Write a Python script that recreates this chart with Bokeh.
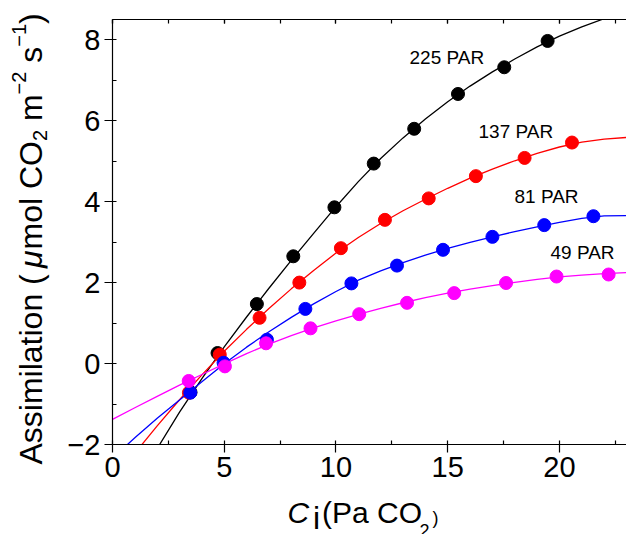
import math
from bokeh.plotting import figure
from bokeh.layouts import row, column
from bokeh.models import (Range1d, LinearAxis, SingleIntervalTicker,
                          CustomJSTickFormatter, Label)
from bokeh.embed import file_html
from bokeh.resources import INLINE

# ---------------- data ----------------
black_x = [3.49, 4.70, 6.46, 8.09, 9.93, 11.69, 13.50, 15.46, 17.53, 19.47]
black_y = [-0.71, 0.26, 1.47, 2.65, 3.86, 4.94, 5.80, 6.66, 7.32, 7.97]
red_x = [3.42, 4.80, 6.58, 8.36, 10.22, 12.19, 14.15, 16.26, 18.44, 20.56]
red_y = [-0.72, 0.22, 1.13, 2.00, 2.85, 3.55, 4.08, 4.63, 5.08, 5.46]
blue_x = [3.48, 4.97, 6.91, 8.63, 10.69, 12.73, 14.79, 17.00, 19.32, 21.52]
blue_y = [-0.72, 0.02, 0.59, 1.35, 1.98, 2.42, 2.81, 3.13, 3.42, 3.64]
mag_x = [3.41, 5.03, 6.87, 8.86, 11.04, 13.18, 15.29, 17.61, 19.87, 22.20]
mag_y = [-0.43, -0.07, 0.50, 0.87, 1.22, 1.50, 1.74, 1.99, 2.15, 2.20]

# fitted curves
black_fit_x = [2, 3, 4, 5, 6, 7, 8, 9, 10, 11, 12, 13, 14, 15, 16, 17, 18, 19, 20, 21, 22, 23]
black_fit_y = [-2.10, -1.20, -0.37, 0.41, 1.15, 1.86, 2.55, 3.215, 3.875, 4.495, 5.065,
               5.575, 6.04, 6.467, 6.855, 7.205, 7.525, 7.823, 8.09, 8.32, 8.52, 8.685]
red_fit_x = [1, 2, 3, 4, 5, 6, 7, 8, 9, 10, 11, 12, 13, 14, 15, 16, 17, 18, 19, 20, 21, 22, 23]
red_fit_y = [-2.215, -1.54, -0.895, -0.28, 0.305, 0.845, 1.36, 1.845, 2.30, 2.73, 3.115,
             3.46, 3.775, 4.06, 4.33, 4.58, 4.805, 5.01, 5.195, 5.35, 5.47, 5.545, 5.585]
blue_fit_x = [0, 1, 2, 3, 4, 5, 6, 7, 8, 9, 10, 11, 12, 13, 14, 15, 16, 17, 18, 19, 20, 21, 22, 23]
blue_fit_y = [-2.34, -1.833, -1.351, -0.903, -0.449, -0.005, 0.405, 0.785, 1.141, 1.473,
              1.78, 2.06, 2.29, 2.495, 2.68, 2.845, 2.996, 3.132, 3.259, 3.377, 3.49,
              3.589, 3.648, 3.653]
mag_fit_x = [0, 1, 2, 3, 4, 5, 6, 7, 8, 9, 10, 11, 12, 13, 14, 15, 16, 17, 18, 19, 20, 21, 22, 23]
mag_fit_y = [-1.38, -1.0925, -0.81, -0.535, -0.27, -0.01, 0.245, 0.48, 0.69, 0.88, 1.055,
             1.215, 1.365, 1.502, 1.626, 1.738, 1.838, 1.927, 2.007, 2.079, 2.139, 2.187,
             2.222, 2.247]

series_labels = ["225 PAR", "137 PAR", "81 PAR", "49 PAR"]
series_colors = ["#000000", "#ff0000", "#0000ff", "#ff00ff"]

FONT = "Liberation Sans"
MID = 0.3465   # (ascent - descent) / 2 in em: baseline offset from the text-box centre

# ---------------- layout (page pixels) ----------------
W, H = 626, 534
YW = 50          # strip at left holding the y title
XH = 40          # strip at bottom holding the x title
FL, FR, FT, FB = 112, 626, 19, 444
X0, X1, Y0, Y1 = 0, 23, -2, 8.5

MW, MH = W - YW, H - XH
p = figure(width=MW, height=MH, output_backend="svg", toolbar_location=None,
           x_range=Range1d(X0, X1), y_range=Range1d(Y0, Y1),
           x_axis_type=None, y_axis_type=None,
           min_border_left=FL - YW, min_border_right=W - FR,
           min_border_top=FT, min_border_bottom=MH - FB)
p.outline_line_color = None
p.background_fill_color = "white"
p.border_fill_color = "white"


def dx(px):
    return X0 + (px - FL) / (FR - FL) * (X1 - X0)


def dy(py):
    return Y1 - (py - FT) / (FB - FT) * (Y1 - Y0)


fmt = CustomJSTickFormatter(code="return tick < 0 ? '\u2212' + Math.abs(tick) : String(tick);")


def style_axis(ax):
    ax.axis_line_width = 1.2
    ax.major_tick_line_width = 1.2
    ax.minor_tick_line_width = 1.2
    ax.major_tick_out = 8
    ax.major_tick_in = 0
    ax.minor_tick_out = 0
    ax.minor_tick_in = 4
    ax.major_label_text_font = FONT
    ax.major_label_text_font_size = "29px"
    ax.major_label_text_color = "black"
    ax.major_label_standoff = 4


xb = LinearAxis(ticker=SingleIntervalTicker(interval=5, num_minor_ticks=2), formatter=fmt)
style_axis(xb)
p.add_layout(xb, "below")

yl = LinearAxis(ticker=SingleIntervalTicker(interval=2, num_minor_ticks=2), formatter=fmt)
style_axis(yl)
p.add_layout(yl, "left")

xt = LinearAxis(ticker=SingleIntervalTicker(interval=5, num_minor_ticks=2),
                formatter=CustomJSTickFormatter(code="return '';"))
xt.axis_line_width = 1.2
xt.major_tick_line_width = 1.2
xt.minor_tick_line_width = 1.2
xt.major_tick_out = 0
xt.major_tick_in = 4
xt.minor_tick_out = 0
xt.minor_tick_in = 4
xt.major_label_text_font_size = "1px"
xt.major_label_standoff = 0
p.add_layout(xt, "above")

# ---------------- data glyphs ----------------
fits = [(black_fit_x, black_fit_y), (red_fit_x, red_fit_y),
        (blue_fit_x, blue_fit_y), (mag_fit_x, mag_fit_y)]
pts = [(black_x, black_y), (red_x, red_y), (blue_x, blue_y), (mag_x, mag_y)]
for (fx, fy), (sx, sy), c in zip(fits, pts, series_colors):
    p.line(fx, fy, line_color=c, line_width=1.3)
    p.scatter(sx, sy, size=13, fill_color=c, line_color=c, line_width=1)

# series annotations: (left px, baseline px)
ann_pos = [(409, 64), (478, 137.3), (514, 202.3), (550, 258.3)]
for txt, (ax_, ay_) in zip(series_labels, ann_pos):
    p.add_layout(Label(x=dx(ax_), y=dy(ay_ - MID * 19), text=txt, text_font=FONT,
                       text_font_size="19px", text_color="black",
                       text_align="left", text_baseline="middle"))


def strip(width, height, x0, x1, y0, y1):
    f = figure(width=width, height=height, output_backend="svg", toolbar_location=None,
               x_range=Range1d(x0, x1), y_range=Range1d(y1, y0),
               x_axis_type=None, y_axis_type=None,
               min_border_left=0, min_border_right=0, min_border_top=0, min_border_bottom=0)
    f.outline_line_color = None
    f.background_fill_color = "white"
    f.border_fill_color = "white"
    return f


# x axis title:  C_i (Pa CO_2)   -- strip frame is aligned under the main frame (112..626)
xf = strip(MW, XH, FL, FR, MH, H)
xparts = [("C", 30, "italic", 287, 522.5),
          ("i", 32, "normal", 312.5, 529),
          ("(Pa CO", 30, "normal", 321.5, 522.5),
          ("2", 18, "normal", 419, 536.6),
          (")", 18, "normal", 432, 523.5)]
for txt, fs, st, px, py in xparts:
    xf.add_layout(Label(x=px, y=py - MID * fs, text=txt, text_font=FONT,
                        text_font_size=f"{fs}px", text_font_style=st,
                        text_color="black", text_align="left",
                        text_baseline="middle"))

# y axis title: Assimilation (mu mol CO2 m-2 s-1), rotated; (baseline px, start px)
yf = strip(YW, H, 0, YW, 0, H)
yparts = [("Assimilation (", 32, "normal", 41.5, 464),
          ("\u03bc", 32, "italic", 41.5, 267.4),
          ("mol CO", 32, "normal", 41.5, 249.0),
          ("2", 20, "normal", 46, 140.6),
          ("m", 32, "normal", 41.5, 120.6),
          ("\u22122", 20, "normal", 25, 93.9),
          ("s", 32, "normal", 41.5, 62.2),
          ("\u22121", 20, "normal", 25, 46.2),
          (")", 32, "normal", 41.5, 23.4)]
for txt, fs, st, px, py in yparts:
    yf.add_layout(Label(x=px - MID * fs, y=py, text=txt, text_font=FONT,
                        text_font_size=f"{fs}px", text_font_style=st,
                        text_color="black", text_align="left",
                        text_baseline="middle", angle=math.pi / 2))

layout = row(yf, column(p, xf, spacing=0), spacing=0)
open("out.html", "w").write(file_html(layout, INLINE))
